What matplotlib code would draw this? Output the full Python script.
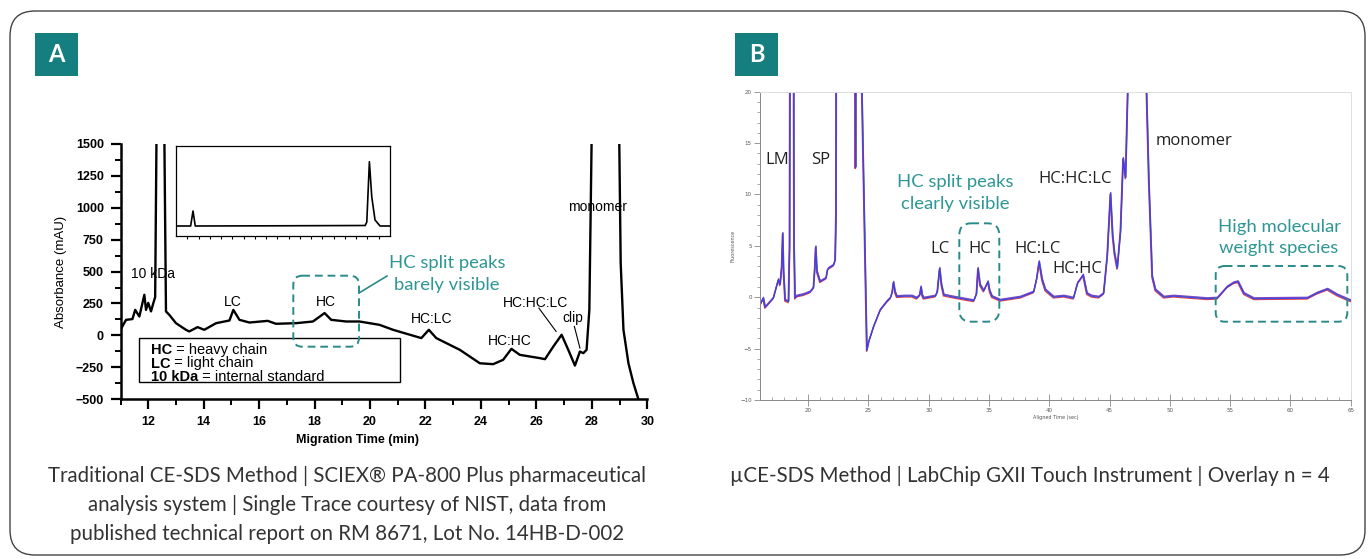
import matplotlib
matplotlib.use("Agg")
import matplotlib.pyplot as plt
from matplotlib.patches import Rectangle, FancyBboxPatch

W, H = 1368, 559

# ---- panel A : CE-SDS single trace (migration time in min, absorbance in mAU)
a_time = [11.0, 11.2, 11.43, 11.53, 11.68, 11.86, 11.92, 12.0, 12.1, 12.18, 12.25,
          12.3, 12.42, 12.52, 12.58, 12.64, 12.76, 13.0, 13.36, 13.48, 13.78, 14.02,
          14.45, 14.93, 15.07, 15.29, 15.65, 16.31, 16.61, 17.34, 17.94, 18.36, 18.6,
          19.14, 19.62, 20.34, 20.83, 21.85, 22.12, 22.39, 23.24, 23.96, 24.44, 24.8,
          25.1, 25.4, 26.13, 26.31, 26.61, 26.91, 27.15, 27.39, 27.57, 27.69, 27.81,
          27.91, 27.99, 28.5, 28.99, 29.04, 29.14, 29.32, 29.5, 29.68, 29.75]
a_abs = [44, 122, 128, 200, 148, 318, 200, 255, 188, 250, 300,
         1600, 3500, 3500, 1600, 188, 161, 96, 44, 31, 65, 44,
         96, 117, 200, 122, 101, 114, 91, 96, 109, 175, 122,
         109, 109, 83, 44, -21, 44, -21, -113, -218, -225, -191,
         -105, -152, -178, -186, -87, 5, -113, -236, -126, -139, -113,
         200, 1500, 6000, 1500, 567, 44, -218, -374, -500, -560]

# inset : full-scale view of the same trace
inset_time = [11.0, 12.3, 12.51, 12.71, 20.0, 27.8, 27.94, 28.17, 28.38, 28.67, 29.12, 30.0]
inset_abs = [0, 0, 1500, 0, 20, 50, 400, 6430, 2930, 600, 0, 0]

a_peaks = ["10 kDa", "LC", "HC", "HC:LC", "HC:HC", "HC:HC:LC", "clip", "monomer"]
a_peak_x = [12.17, 15.04, 18.42, 22.21, 25.04, 25.95, 27.33, 28.2]
a_peak_y = [482, 258, 258, 128, -42, 253, 135, 1005]

# ---- panel B : microCE-SDS overlay (aligned time in sec, fluorescence)
b_time = [16.0, 16.27, 16.42, 17.1, 17.52, 17.66, 17.8, 17.88, 17.95, 18.08, 18.36,
          18.45, 18.55, 18.72, 18.82, 18.9, 19.04, 19.6, 20.15, 20.43, 20.55, 20.62,
          20.72, 20.98, 21.48, 21.58, 21.68, 22.09, 22.23, 22.3, 22.36, 23.8, 23.92,
          24.0, 24.3, 24.45, 24.86, 25.0, 25.41, 25.97, 26.52, 26.8, 26.95, 27.07,
          27.2, 27.35, 28.0, 28.6, 29.0, 29.25, 29.35, 29.45, 29.57, 30.54, 30.7,
          30.9, 31.05, 31.24, 32.07, 33.0, 33.73, 33.95, 34.08, 34.25, 34.55, 34.91,
          35.05, 35.24, 35.93, 37.6, 38.7, 38.95, 39.15, 39.4, 39.67, 40.36, 41.2,
          42.0, 42.35, 42.55, 42.8, 43.12, 43.5, 44.1, 44.5, 44.8, 45.07, 45.25,
          45.4, 45.63, 45.9, 46.12, 46.32, 46.5, 46.7, 47.8, 48.06, 48.25, 48.53,
          48.8, 49.5, 50.3, 53.1, 53.93, 54.76, 55.3, 55.65, 56.14, 56.97, 61.4,
          62.23, 63.07, 63.9, 65.0]
b_fluo = [-0.76, -0.1, -1.0, -0.1, 1.7, 1.2, 3.0, 6.2, 2.5, -0.3, -0.45,
          5.0, 60, 60, 5.0, -0.1, 0.1, 0.25, 0.5, 0.9, 3.0, 4.9,
          2.5, 1.5, 1.85, 2.6, 2.8, 3.1, 3.6, 8.0, 60, 60, 12.6,
          60, 60, 20, -5.2, -4.4, -2.9, -1.25, -0.43, -0.1, 0.4, 1.45,
          0.5, 0.05, 0.1, 0.1, -0.1, 0.2, 1.0, 0.2, -0.1, 0.1, 0.5,
          2.8, 1.2, 0.2, 0.0, -0.2, -0.35, 0.3, 2.8, 1.2, 0.6, 1.5,
          0.6, 0.05, -0.3, 0.0, 0.5, 1.8, 3.45, 1.7, 0.7, 0.0, 0.1,
          -0.1, 1.4, 1.7, 2.15, 0.35, 0.1, 0.0, 0.35, 4.0, 10.1, 6.0,
          4.3, 2.8, 6.4, 13.5, 11.6, 20, 60, 60, 20, 11.4, 2.0,
          0.7, 0.0, 0.1, -0.15, -0.1, 1.0, 1.4, 1.5, 0.35, -0.15, -0.1,
          0.4, 0.77, 0.2, -0.35]

# four replicate runs, small offsets between them
rep_colors = ["#3aa845", "#e8352b", "#7b3fc4", "#3b3cf2"]
rep_dy = [0.05, -0.08, 0.1, 0.0]
rep_dx = [0.03, -0.03, 0.02, 0.0]

b_peaks = ["LM", "SP", "LC", "HC", "HC:LC", "HC:HC", "HC:HC:LC", "monomer"]
b_peak_x = [17.39, 21.04, 30.89, 34.21, 39.0, 42.3, 42.16, 51.99]
b_peak_y = [13.35, 13.35, 4.66, 4.66, 4.7, 2.7, 11.5, 15.2]

captions_a = ["Traditional CE-SDS Method | SCIEX\u00ae PA-800 Plus pharmaceutical",
              "analysis system | Single Trace courtesy of NIST, data from",
              "published technical report on RM 8671, Lot No. 14HB-D-002"]
caption_b = "\u00b5CE-SDS Method | LabChip GXII Touch Instrument | Overlay n = 4"

TEAL = "#157f80"
TEAL_TXT = "#2e9694"
TEAL_DASH = "#2a8a8a"
ARIAL = "Liberation Sans"


def px_rect(l, t, r, b):
    return [l / W, 1 - b / H, (r - l) / W, (b - t) / H]


fig = plt.figure(figsize=(W / 100, H / 100), dpi=100)

# ---------------- panel A
ax_a = fig.add_axes(px_rect(120.5, 143.8, 647.3, 399.3))
ax_a.plot(a_time, a_abs, color="black", lw=1.7)
ax_a.set_xlim(11, 30)
ax_a.set_ylim(-500, 1500)
ax_a.spines[["top", "right"]].set_visible(False)
for s in ["left", "bottom"]:
    ax_a.spines[s].set_linewidth(1.8)
ax_a.set_xticks(range(12, 31, 2))
ax_a.set_xticks(range(11, 30, 2), minor=True)
ax_a.set_yticks(range(-500, 1501, 250))
ax_a.set_yticks(range(-375, 1500, 250), minor=True)
ax_a.tick_params(which="major", length=7, width=1.6, pad=5)
ax_a.tick_params(which="minor", length=4, width=1.4)
for lab in ax_a.get_xticklabels() + ax_a.get_yticklabels():
    lab.set_fontfamily(ARIAL)
    lab.set_fontweight("bold")
    lab.set_fontsize(9)
ax_a.set_ylabel("Absorbance (mAU)", family=ARIAL, fontsize=9.5, labelpad=6)
for name, x, y in zip(a_peaks, a_peak_x, a_peak_y):
    ax_a.text(x, y, name, ha="center", va="center", family=ARIAL, fontsize=10)
ax_a.plot([26.09, 26.71], [214, 31], color="black", lw=0.8)
ax_a.plot([27.37, 27.57], [70, -99], color="black", lw=0.8)

ax_in = fig.add_axes(px_rect(176, 146, 390, 236))
ax_in.plot(inset_time, inset_abs, color="black", lw=1.2)
ax_in.set_xlim(11, 30)
ax_in.set_ylim(-1000, 8000)
ax_in.set_xticks(range(12, 30))
ax_in.set_xticklabels([])
ax_in.set_yticks([])
ax_in.tick_params(axis="x", length=2.5, width=0.8)
for s in ax_in.spines.values():
    s.set_linewidth(0.9)

# ---------------- panel B
ax_b = fig.add_axes(px_rect(760, 91.7, 1350.7, 400))
for c, dy, dx in zip(rep_colors, rep_dy, rep_dx):
    ax_b.plot([t + dx for t in b_time], [v + dy for v in b_fluo], color=c, lw=0.9, alpha=0.9)
ax_b.set_xlim(16, 65)
ax_b.set_ylim(-10, 20)
ax_b.set_xticks(range(20, 66, 5))
ax_b.set_xticks(range(16, 66), minor=True)
ax_b.set_yticks(range(-10, 21, 5))
ax_b.set_yticks(range(-10, 21), minor=True)
ax_b.tick_params(axis="x", which="major", direction="inout", length=8, width=0.6,
                 color="#888888", labelsize=4, labelcolor="#555555", pad=2)
ax_b.tick_params(axis="x", which="minor", direction="in", length=2.5, width=0.5, color="#888888")
ax_b.tick_params(axis="y", which="major", length=4, width=0.6, color="#888888",
                 labelsize=4, labelcolor="#555555", pad=2)
ax_b.tick_params(axis="y", which="minor", length=2, width=0.5, color="#888888")
ax_b.spines[["left", "bottom"]].set_color("#888888")
ax_b.spines[["top", "right"]].set_color("#dddddd")
for s in ax_b.spines.values():
    s.set_linewidth(0.7)
ax_b.set_xlabel("Aligned Time (sec)", fontsize=3.5, color="#555555", labelpad=1)
ax_b.set_ylabel("Fluorescence", fontsize=3.5, color="#555555", labelpad=3)
for name, x, y in zip(b_peaks, b_peak_x, b_peak_y):
    ax_b.text(x, y, name, ha="center", va="center", family="Open Sans",
              fontsize=12, color="#222222")

# ---------------- overlay in pixel coordinates
ov = fig.add_axes([0, 0, 1, 1], zorder=5)
ov.set_xlim(0, W)
ov.set_ylim(H, 0)
ov.axis("off")

ov.add_patch(FancyBboxPatch((10, 11), 1355, 544, boxstyle="round,pad=0,rounding_size=25",
                            fc="none", ec="#444444", lw=1))
for x0, letter in [(35, "A"), (735, "B")]:
    ov.add_patch(Rectangle((x0, 33), 43, 43, fc=TEAL, ec="none"))
    ov.text(x0 + 21.5, 55, letter, ha="center", va="center", color="white",
            fontsize=17, weight="bold", family="Lato")

# legend of panel A
ov.add_patch(Rectangle((139.3, 338.3), 260.7, 43.4, fc="white", ec="black", lw=1))
for y, b, p in [(350, "HC", " = heavy chain"), (363.5, "LC", " = light chain"),
                (377, "10 kDa", " = internal standard")]:
    t = ov.text(150.7, y, b, weight="bold", va="center", ha="left", family=ARIAL, fontsize=10.5)
    ov.annotate(p, xy=(1, 0.5), xycoords=t, va="center", ha="left", family=ARIAL, fontsize=10.5)

ov.text(358, 440, "Migration Time (min)", ha="center", va="center", family=ARIAL,
        weight="bold", fontsize=9)

# teal call-outs
dash = (0, (4, 2.5))
ov.add_patch(FancyBboxPatch((293.3, 275.7), 65.7, 71, boxstyle="round,pad=0,rounding_size=9",
                            fc="none", ec=TEAL_DASH, lw=1.4, ls=dash))
ov.plot([359, 387], [293, 276], color=TEAL_DASH, lw=1.2)
ov.text(447, 262.7, "HC split peaks", ha="center", va="center", color=TEAL_TXT,
        family="Lato", fontsize=13.3)
ov.text(447, 285, "barely visible", ha="center", va="center", color=TEAL_TXT,
        family="Lato", fontsize=13.3)

ov.add_patch(FancyBboxPatch((959.3, 223.3), 40, 98.4, boxstyle="round,pad=0,rounding_size=12",
                            fc="none", ec=TEAL_DASH, lw=1.4, ls=dash))
ov.text(955.7, 182.3, "HC split peaks", ha="center", va="center", color=TEAL_TXT,
        family="Lato", fontsize=13.3)
ov.text(955.7, 204, "clearly visible", ha="center", va="center", color=TEAL_TXT,
        family="Lato", fontsize=13.3)

ov.add_patch(FancyBboxPatch((1215.7, 266), 131.6, 55.7, boxstyle="round,pad=0,rounding_size=9",
                            fc="none", ec=TEAL_DASH, lw=1.4, ls=dash))
ov.text(1279, 226.7, "High molecular", ha="center", va="center", color=TEAL_TXT,
        family="Lato", fontsize=13.3)
ov.text(1279, 248.3, "weight species", ha="center", va="center", color=TEAL_TXT,
        family="Lato", fontsize=13.3)

# captions
for y, line in zip([476, 505, 534], captions_a):
    ov.text(347, y, line, ha="center", va="center", color="#333333", family="Lato", fontsize=14.8)
ov.text(1030, 476, caption_b, ha="center", va="center", color="#333333", family="Lato",
        fontsize=14.8)

fig.savefig("out.png", dpi=100)
